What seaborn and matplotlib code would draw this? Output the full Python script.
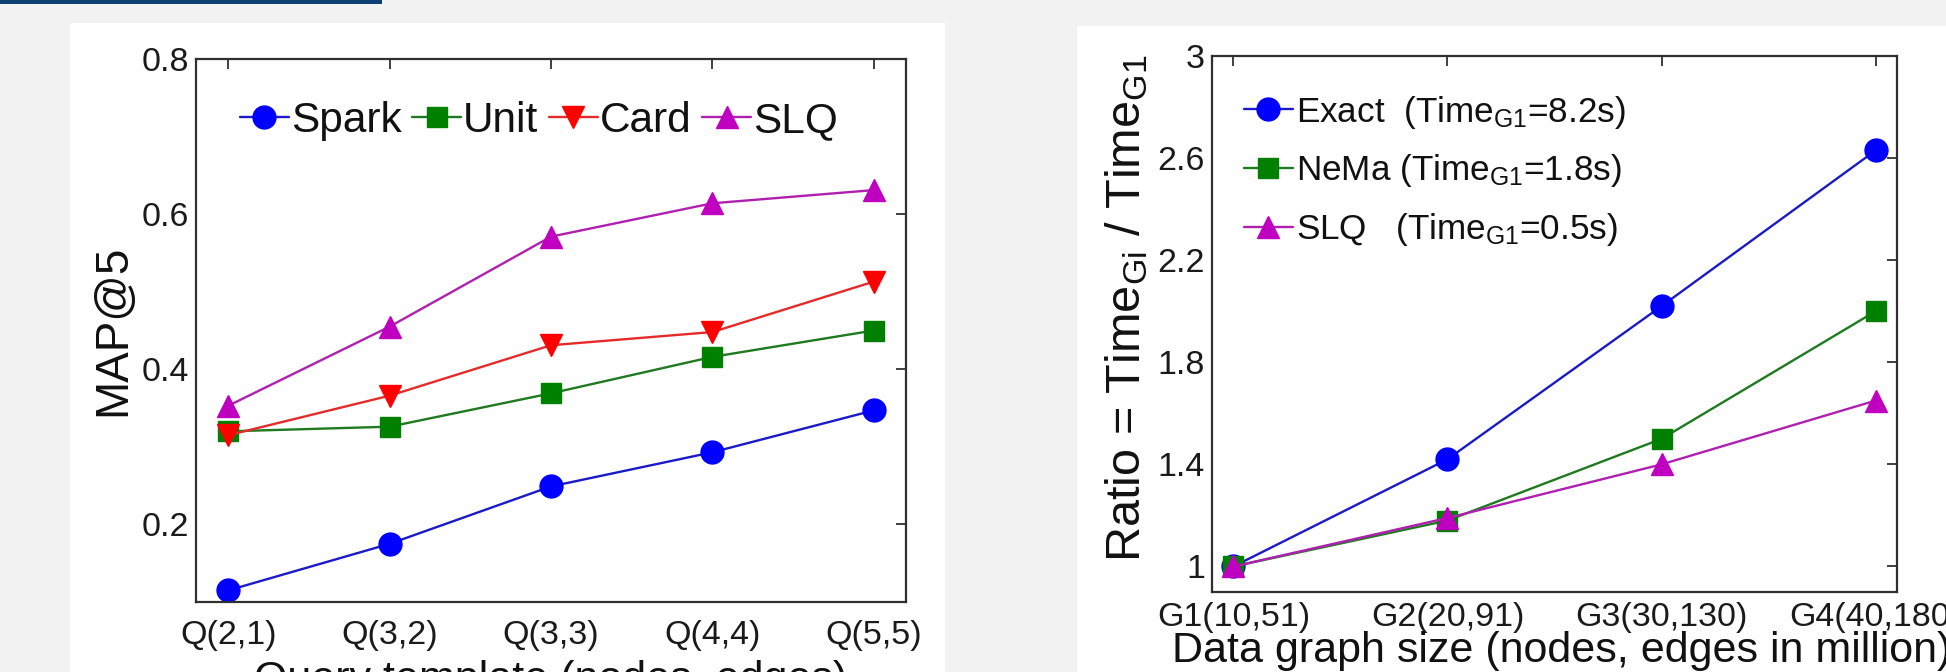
import matplotlib
matplotlib.use("Agg")
import matplotlib.pyplot as plt
from matplotlib import font_manager
from matplotlib.patches import Rectangle
import seaborn as sns
import numpy as np

# ---------------- data ----------------
query_templates = ["Q(2,1)", "Q(3,2)", "Q(3,3)", "Q(4,4)", "Q(5,5)"]
map_spark = [0.115, 0.175, 0.249, 0.293, 0.347]
map_unit = [0.320, 0.326, 0.369, 0.416, 0.450]
map_card = [0.315, 0.366, 0.431, 0.448, 0.513]
map_slq = [0.353, 0.455, 0.571, 0.614, 0.631]
left_yticks = [0.2, 0.4, 0.6, 0.8]
left_yticklabels = ["0.2", "0.4", "0.6", "0.8"]

graph_sizes = ["G1(10,51)", "G2(20,91)", "G3(30,130)", "G4(40,180)"]
ratio_exact = [1.0, 1.42, 2.02, 2.63]
ratio_nema = [1.0, 1.18, 1.50, 2.00]
ratio_slq = [1.0, 1.19, 1.40, 1.65]
right_yticks = [1.0, 1.4, 1.8, 2.2, 2.6, 3.0]
right_yticklabels = ["1", "1.4", "1.8", "2.2", "2.6", "3"]

# ---------------- style ----------------
sns.set_style("white")
names = {f.name for f in font_manager.fontManager.ttflist}
if "Liberation Sans Narrow" in names:
    FONT, K = "Liberation Sans Narrow", 1.17
else:
    FONT, K = "Liberation Sans", 1.0
plt.rcParams["font.family"] = [FONT, "Liberation Sans", "DejaVu Sans"]
plt.rcParams["mathtext.fontset"] = "custom"
plt.rcParams["mathtext.rm"] = FONT
plt.rcParams["mathtext.it"] = FONT + ":italic"
plt.rcParams["mathtext.default"] = "regular"

W, H = 1946, 672
fig = plt.figure(figsize=(W / 100, H / 100), dpi=100, facecolor="#f2f2f2")

# background panels
fig.patches.append(Rectangle((0, (H - 4) / H), 382 / W, 4 / H, transform=fig.transFigure,
                             facecolor="#0e3f72", edgecolor="none", zorder=-10))
fig.patches.append(Rectangle((70 / W, 0), 875 / W, (H - 23) / H, transform=fig.transFigure,
                             facecolor="white", edgecolor="none", zorder=-10))
fig.patches.append(Rectangle((1077 / W, 0), (W - 1077) / W, (H - 26) / H, transform=fig.transFigure,
                             facecolor="white", edgecolor="none", zorder=-10))


def px_axes(l, r, t, b):
    ax = fig.add_axes([l / W, (H - b) / H, (r - l) / W, (b - t) / H])
    ax.set_zorder(5)
    return ax


ax1 = px_axes(196, 906, 59, 602)
ax2 = px_axes(1212, 1897, 56, 592)

BLUE_M, BLUE_L = "#0000ff", "#1a1ac8"
GREEN_M, GREEN_L = "#008000", "#1f7a1f"
RED_M, RED_L = "#ff0000", "#e62a2a"
MAG_M, MAG_L = "#c000c0", "#b020b0"


def draw(ax, xs, ys, marker, ms, mcol, lcol, label):
    sns.lineplot(x=xs, y=ys, ax=ax, color=lcol, lw=1.7, marker=marker, markersize=ms,
                 markerfacecolor=mcol, markeredgecolor=mcol, markeredgewidth=1.0,
                 label=label, legend=False)


# ---------------- left chart ----------------
x1 = np.arange(len(query_templates))
draw(ax1, x1, map_spark, "o", 16.5, BLUE_M, BLUE_L, "Spark")
draw(ax1, x1, map_unit, "s", 14, GREEN_M, GREEN_L, "Unit")
draw(ax1, x1, map_card, "v", 16.5, RED_M, RED_L, "Card")
draw(ax1, x1, map_slq, "^", 16.5, MAG_M, MAG_L, "SLQ")
ax1.set_xlim(-0.2, 4.2)
ax1.set_ylim(0.1, 0.8)
ax1.set_xticks(x1)
ax1.set_xticklabels(query_templates)
ax1.set_yticks(left_yticks)
ax1.set_yticklabels(left_yticklabels)
ax1.set_ylabel("MAP@5", fontsize=33 * K, color="#111111")
ax1.yaxis.set_label_coords(-0.085, 0.5)
ax1.set_xlabel("Query template (nodes, edges)", fontsize=31 * K, color="#111111")
ax1.xaxis.set_label_coords(0.5, -0.107)
ax1.xaxis.label.set_va("top")
leg1 = ax1.legend(loc="center", bbox_to_anchor=(0.483, 0.886), ncol=4, frameon=False,
                  fontsize=30.5 * K, handlelength=1.15 / K, handletextpad=0.05, columnspacing=0.25,
                  borderpad=0, borderaxespad=0)

# ---------------- right chart ----------------
x2 = np.arange(len(graph_sizes))
draw(ax2, x2, ratio_exact, "o", 16.5, BLUE_M, BLUE_L, "Exact  (Time$_{G1}$=8.2s)")
draw(ax2, x2, ratio_nema, "s", 14, GREEN_M, GREEN_L, "NeMa (Time$_{G1}$=1.8s)")
draw(ax2, x2, ratio_slq, "^", 16.5, MAG_M, MAG_L, "SLQ   (Time$_{G1}$=0.5s)")
ax2.set_xlim(-0.1, 3.1)
ax2.set_ylim(0.9, 3.0)
ax2.set_xticks(x2)
ax2.set_xticklabels(graph_sizes)
ax2.set_yticks(right_yticks)
ax2.set_yticklabels(right_yticklabels)
ax2.set_ylabel("Ratio = Time$_{Gi}$ / Time$_{G1}$", fontsize=35 * K, color="#111111")
ax2.yaxis.set_label_coords(-0.09, 0.53)
ax2.set_xlabel("Data graph size (nodes, edges in million)", fontsize=31 * K, color="#111111")
ax2.xaxis.set_label_coords(0.51, -0.072)
ax2.xaxis.label.set_va("top")
leg2 = ax2.legend(loc="upper left", bbox_to_anchor=(0.046, 0.93), ncol=1, frameon=False,
                  fontsize=25.3 * K, handlelength=1.4 / K, handletextpad=0.1, labelspacing=0.62 / K,
                  borderpad=0, borderaxespad=0)

for ax in (ax1, ax2):
    ax.set_facecolor("white")
    for s in ax.spines.values():
        s.set_visible(True)
        s.set_color("#303030")
        s.set_linewidth(1.6)
    ax.tick_params(axis="both", which="major", direction="in", length=7, width=1.3,
                   color="#303030", top=True, right=True, labelsize=24.5 * K,
                   labelcolor="#1a1a1a", pad=5)
ax1.tick_params(axis="x", pad=13)
ax2.tick_params(axis="x", pad=7)
for t in leg1.get_texts() + leg2.get_texts():
    t.set_color("#111111")

fig.savefig("out.png", dpi=100, facecolor=fig.get_facecolor())
